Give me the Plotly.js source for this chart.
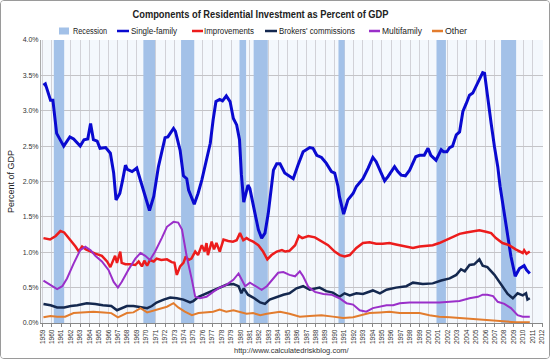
<!DOCTYPE html>
<html>
<head>
<meta charset="utf-8">
<script src="https://cdn.plot.ly/plotly-3.0.1.min.js"></script>
<style>
html,body{margin:0;padding:0;background:#fff;}
#wrap{width:548px;height:357px;border:1px solid #9a9a9a;border-radius:4px;overflow:hidden;}
#chart{width:548px;height:357px;}
</style>
</head>
<body>
<div id="wrap"><div id="chart"></div></div>
<script>
// Recession periods (decimal years)
const recStart = [1960.2, 1969.7, 1973.7, 1979.9, 1981.4, 1990.4, 2000.8, 2007.65];
const recEnd   = [1961.3, 1970.95, 1975.1, 1980.6, 1982.9, 1991.05, 2001.8, 2009.25];

// Year tick labels
const tickYears = [];
for (let y = 1959; y <= 2012; y++) tickYears.push(y);

// Series names and colours
const seriesNames  = ['Recession', 'Single-family', 'Improvements', "Brokers' commissions", 'Multifamily', 'Other'];
const seriesColors = ['#a3c1e8', '#0a0ad0', '#ec1c1c', '#14284f', '#9a2fc9', '#e27c2e'];

// Single-family
const sfYears = [1959.1,1959.3,1959.85,1960.1,1960.5,1961.25,1961.9,1962.3,1963.0,1963.4,1963.8,1964.1,1964.4,1964.8,1965.1,1965.7,1966.2,1966.55,1966.8,1967.2,1967.5,1967.8,1968.0,1968.5,1969.0,1969.4,1969.7,1970.1,1970.35,1970.8,1971.1,1971.3,1972.0,1972.3,1972.9,1973.1,1973.6,1973.95,1974.3,1974.5,1975.1,1975.5,1975.9,1976.25,1976.8,1977.1,1977.4,1977.8,1978.1,1978.5,1978.9,1979.25,1979.6,1979.9,1980.1,1980.35,1980.8,1981.0,1981.2,1981.55,1981.9,1982.25,1982.6,1982.95,1983.3,1983.5,1983.85,1984.2,1984.7,1985.2,1985.6,1986.1,1986.65,1987.35,1987.7,1988.1,1988.6,1989.1,1989.65,1990.0,1990.35,1990.5,1990.95,1991.4,1991.95,1992.3,1992.8,1993.0,1993.55,1994.05,1994.4,1994.8,1995.3,1995.65,1996.35,1996.7,1997.05,1997.5,1997.95,1998.6,1999.0,1999.5,1999.9,2000.2,2000.75,2001.3,2001.55,2001.9,2002.2,2002.5,2002.9,2003.25,2003.6,2003.95,2004.3,2004.65,2005.0,2005.35,2005.7,2005.9,2006.2,2006.6,2006.95,2007.3,2007.55,2008.0,2008.35,2008.7,2009.15,2009.6,2010.1,2010.35,2010.7];
const sfPct = [3.36,3.38,3.15,3.15,2.68,2.50,2.63,2.60,2.50,2.59,2.60,2.82,2.59,2.57,2.47,2.48,2.40,2.12,1.74,1.83,2.02,2.23,2.17,2.14,2.19,2.02,1.88,1.69,1.59,1.79,2.02,2.21,2.62,2.63,2.75,2.71,2.44,2.08,2.04,1.88,1.68,1.83,2.02,2.21,2.54,2.87,3.13,3.16,3.14,3.21,3.13,2.89,2.80,2.59,2.10,1.71,1.95,1.90,1.76,1.55,1.32,1.20,1.27,1.55,1.93,2.16,2.25,2.25,2.12,2.07,2.04,2.23,2.42,2.48,2.47,2.37,2.34,2.26,2.14,2.12,1.93,1.79,1.54,1.74,1.83,1.93,2.02,2.04,2.19,2.34,2.28,2.16,2.01,2.07,2.21,2.14,2.09,2.08,2.16,2.35,2.37,2.37,2.47,2.37,2.30,2.45,2.42,2.42,2.48,2.50,2.66,2.70,2.99,3.10,3.22,3.25,3.34,3.43,3.54,3.53,3.20,2.82,2.49,2.21,1.93,1.55,1.27,0.94,0.66,0.77,0.81,0.75,0.70];

// Improvements
const impYears = [1959.1,1959.8,1960.4,1960.9,1961.3,1962.0,1962.5,1962.85,1963.2,1963.6,1964.1,1964.6,1965.3,1965.85,1966.2,1966.55,1966.7,1966.9,1967.25,1967.4,1967.8,1968.3,1968.85,1969.2,1969.55,1969.8,1970.1,1970.4,1970.8,1971.1,1971.6,1972.2,1972.7,1973.0,1973.25,1973.6,1973.95,1974.2,1974.5,1974.8,1975.2,1975.5,1975.9,1976.2,1976.4,1976.55,1976.95,1977.2,1977.45,1977.8,1978.2,1978.7,1979.2,1979.6,1979.95,1980.3,1980.65,1981.0,1981.35,1981.9,1982.4,1982.85,1983.3,1983.85,1984.4,1984.75,1985.2,1985.8,1986.2,1986.55,1987.2,1987.9,1988.6,1989.3,1990.0,1990.55,1991.05,1991.6,1992.3,1993.0,1993.7,1994.4,1995.1,1995.8,1996.5,1997.4,1998.3,1999.0,1999.7,2000.4,2001.1,2001.8,2002.5,2003.25,2003.95,2004.65,2005.35,2006.05,2006.6,2007.1,2007.8,2008.5,2009.2,2009.95,2010.1,2010.35,2010.7];
const impPct = [1.20,1.18,1.23,1.30,1.28,1.17,1.08,1.01,1.08,1.04,1.01,0.98,0.95,0.87,0.79,0.89,0.95,0.85,1.01,0.85,0.83,0.83,0.82,0.87,0.80,0.88,0.81,0.89,0.87,0.91,0.89,0.90,0.86,0.85,0.68,0.80,0.85,0.94,0.89,0.91,1.01,0.96,1.10,1.01,1.13,0.96,1.15,1.04,1.13,1.01,1.18,1.16,1.15,1.17,1.27,1.17,1.20,1.17,1.15,1.10,1.01,0.90,0.96,1.01,1.03,1.01,1.02,1.10,1.23,1.20,1.23,1.21,1.16,1.10,1.01,0.96,0.94,0.96,1.06,1.13,1.14,1.12,1.12,1.13,1.11,1.08,1.06,1.08,1.09,1.10,1.13,1.17,1.22,1.26,1.28,1.30,1.31,1.29,1.27,1.20,1.13,1.10,1.04,0.99,1.03,0.98,1.01];

// Brokers' commissions
const brkYears = [1959.1,1959.85,1960.55,1961.3,1962.0,1962.7,1963.7,1964.6,1965.4,1966.3,1966.9,1967.4,1967.95,1968.65,1969.4,1970.1,1970.6,1971.1,1971.85,1972.55,1973.25,1973.95,1974.65,1975.0,1975.55,1976.4,1977.5,1978.5,1979.25,1979.8,1980.1,1980.35,1980.8,1981.35,1982.1,1982.6,1983.1,1983.85,1984.55,1985.2,1985.95,1986.65,1987.35,1988.4,1989.1,1989.8,1990.5,1991.05,1991.6,1992.3,1993.0,1994.05,1994.8,1995.5,1996.5,1997.6,1998.3,1999.35,2000.4,2001.3,2002.2,2002.9,2003.4,2003.8,2004.3,2004.8,2005.35,2005.7,2006.2,2006.95,2007.65,2008.35,2008.9,2009.4,2009.95,2010.3,2010.45,2010.7];
const brkPct = [0.27,0.25,0.22,0.22,0.24,0.25,0.28,0.27,0.25,0.24,0.18,0.21,0.24,0.24,0.22,0.21,0.24,0.29,0.33,0.36,0.35,0.33,0.29,0.31,0.37,0.42,0.49,0.54,0.55,0.52,0.42,0.49,0.40,0.36,0.29,0.27,0.33,0.37,0.40,0.42,0.49,0.52,0.47,0.50,0.45,0.43,0.37,0.42,0.39,0.42,0.41,0.46,0.42,0.47,0.50,0.52,0.57,0.55,0.56,0.60,0.63,0.68,0.76,0.73,0.82,0.83,0.90,0.81,0.79,0.68,0.54,0.41,0.35,0.42,0.39,0.42,0.33,0.35];

// Multifamily
const mfYears = [1959.1,1959.85,1960.55,1961.1,1961.6,1962.3,1963.0,1963.55,1964.1,1964.6,1965.3,1966.0,1966.55,1967.0,1967.4,1968.1,1968.85,1969.4,1969.9,1970.4,1970.95,1971.65,1972.2,1972.9,1973.4,1973.8,1974.3,1974.85,1975.2,1975.7,1976.4,1977.1,1977.8,1978.5,1979.25,1979.8,1980.1,1980.5,1981.0,1981.7,1982.25,1982.8,1983.5,1984.0,1984.55,1985.2,1985.8,1986.3,1986.65,1987.2,1987.9,1988.8,1989.65,1990.5,1991.25,1991.95,1992.65,1993.35,1994.05,1994.8,1995.5,1996.2,1996.9,1997.95,1999.0,2000.05,2001.1,2002.2,2003.25,2004.3,2005.2,2005.7,2006.2,2006.8,2007.3,2008.0,2008.7,2009.4,2009.95,2010.7];
const mfPct = [0.60,0.54,0.48,0.52,0.63,0.84,1.03,1.08,1.03,0.95,0.87,0.75,0.58,0.50,0.58,0.75,0.91,0.99,0.95,0.89,1.01,1.20,1.36,1.43,1.42,1.32,0.94,0.61,0.37,0.35,0.37,0.44,0.50,0.54,0.61,0.70,0.63,0.52,0.57,0.52,0.47,0.52,0.63,0.71,0.72,0.68,0.66,0.73,0.66,0.51,0.44,0.41,0.40,0.35,0.28,0.26,0.18,0.16,0.21,0.23,0.25,0.25,0.28,0.29,0.29,0.28,0.29,0.30,0.31,0.35,0.37,0.40,0.40,0.38,0.30,0.27,0.21,0.11,0.09,0.09];

// Other
const othYears = [1959.1,1959.85,1960.55,1961.4,1962.3,1963.4,1964.4,1965.5,1966.3,1967.0,1967.95,1968.65,1969.4,1970.1,1970.8,1971.5,1972.2,1972.9,1973.4,1974.1,1974.85,1975.55,1976.4,1977.1,1977.8,1978.5,1979.25,1979.95,1980.65,1981.35,1982.1,1982.8,1983.5,1984.2,1985.2,1986.3,1987.35,1988.6,1989.8,1990.9,1991.95,1992.8,1993.7,1994.8,1995.8,1996.9,1997.95,1999.0,2000.05,2001.1,2002.2,2003.25,2004.3,2005.35,2006.4,2007.8,2009.2,2010.7];
const othPct = [0.08,0.10,0.09,0.09,0.14,0.15,0.16,0.15,0.14,0.08,0.14,0.15,0.21,0.15,0.18,0.21,0.23,0.28,0.22,0.16,0.11,0.14,0.15,0.16,0.19,0.16,0.18,0.15,0.13,0.14,0.11,0.13,0.15,0.16,0.13,0.09,0.10,0.11,0.09,0.07,0.08,0.11,0.14,0.15,0.16,0.14,0.14,0.14,0.11,0.09,0.08,0.07,0.06,0.04,0.03,0.02,0.01,0.01];

// Recession polygons (separated by gaps)
const recX = [], recY = [];
recStart.forEach((s, i) => {
  recX.push(s, recEnd[i], recEnd[i], s, s, null);
  recY.push(0, 0, 4, 4, 0, null);
});

const font = "'Liberation Sans', Arial, sans-serif";

const traces = [
  {x: recX, y: recY, name: seriesNames[0], type: 'scatter', mode: 'lines', fill: 'toself',
   fillcolor: seriesColors[0], line: {width: 0, color: seriesColors[0]}, hoverinfo: 'skip'},
  {x: sfYears,  y: sfPct,  name: seriesNames[1], type: 'scatter', mode: 'lines', line: {color: seriesColors[1], width: 3}},
  {x: impYears, y: impPct, name: seriesNames[2], type: 'scatter', mode: 'lines', line: {color: seriesColors[2], width: 2.5}},
  {x: brkYears, y: brkPct, name: seriesNames[3], type: 'scatter', mode: 'lines', line: {color: seriesColors[3], width: 2.5}},
  {x: mfYears,  y: mfPct,  name: seriesNames[4], type: 'scatter', mode: 'lines', line: {color: seriesColors[4], width: 2}},
  {x: othYears, y: othPct, name: seriesNames[5], type: 'scatter', mode: 'lines', line: {color: seriesColors[5], width: 2}}
];

// Page-pixel helpers for legend placement (figure is offset by the 1px border)
const W = 548, H = 357, ML = 40, MR = 6, MT = 39, MB = 35;
const PW = W - ML - MR, PH = H - MT - MB;
const px = p => (p - 1 - ML) / PW;
const py = p => 1 - (p - 1 - MT) / PH;

// Legend layout (page px): swatch left/right edges, text start and text width
const legSwatchL = [59, 117, 192, 265, 369, 432];
const legSwatchR = [69, 129, 203, 277, 380, 443];
const legTextX   = [71, 129, 202, 277, 380, 443];
const legTextW   = [34, 46, 50, 76, 40, 22];
const legY = 31;

const shapes = [], annotations = [];
seriesNames.forEach((nm, i) => {
  if (i === 0) {
    shapes.push({type: 'rect', xref: 'paper', yref: 'paper', x0: px(legSwatchL[i]), x1: px(legSwatchR[i]),
                 y0: py(legY + 3.5), y1: py(legY - 3.5), fillcolor: seriesColors[i], line: {width: 0}});
  } else {
    shapes.push({type: 'line', xref: 'paper', yref: 'paper', x0: px(legSwatchL[i]), x1: px(legSwatchR[i]),
                 y0: py(legY), y1: py(legY), line: {color: seriesColors[i], width: 2.5}});
  }
  annotations.push({text: nm, xref: 'paper', yref: 'paper', x: px(legTextX[i]), y: py(legY),
                    xanchor: 'left', yanchor: 'middle', align: 'left', showarrow: false,
                    font: {family: font, size: 8.5, color: '#222'}});
});
annotations.push({text: 'http://www.calculatedriskblog.com/', xref: 'paper', yref: 'paper',
                  x: px(292), y: py(350), xanchor: 'center', yanchor: 'middle', showarrow: false,
                  font: {family: font, size: 7.5, color: '#333'}});

const yTicks = [0, 0.5, 1, 1.5, 2, 2.5, 3, 3.5, 4];

const layout = {
  width: W, height: H,
  margin: {l: ML, r: MR, t: MT, b: MB},
  paper_bgcolor: '#ffffff',
  plot_bgcolor: '#f4f8fd',
  font: {family: font, size: 8, color: '#333'},
  title: {text: 'Components of Residential Investment as Percent of GDP',
          font: {family: font, size: 11.5, color: '#222', weight: 'bold'},
          x: (260.5 - 1) / W, xanchor: 'center', y: 1 - 12.5 / H, yanchor: 'middle'},
  showlegend: false,
  xaxis: {range: [1958.84, 2012.1], tickmode: 'array', tickvals: tickYears, ticktext: tickYears.map(String),
          tickangle: -90, tickfont: {size: 6.5, color: '#333'}, showgrid: true, gridcolor: '#d2d2d8', gridwidth: 1,
          zeroline: false, showline: true, linecolor: '#888', ticks: 'outside', ticklen: 3, tickcolor: '#888'},
  yaxis: {range: [0, 4.0], tickmode: 'array', tickvals: yTicks, ticktext: yTicks.map(v => v.toFixed(1) + '%'),
          showgrid: true, gridcolor: '#c4c4c8', gridwidth: 1,
          zeroline: false, showline: true, linecolor: '#aaa', tickfont: {size: 7, color: '#333'},
          title: {text: 'Percent of GDP', font: {size: 9, color: '#222'}, standoff: 6}},
  shapes: shapes,
  annotations: annotations
};

Plotly.newPlot('chart', traces, layout, {displayModeBar: false, staticPlot: true}).then(() => {
  // condense texts to the reference's narrow (Calibri-like) widths
  const t = document.querySelector('#chart .gtitle');
  if (t) { t.setAttribute('textLength', '256'); t.setAttribute('lengthAdjust', 'spacingAndGlyphs'); }
  const annTexts = document.querySelectorAll('#chart .annotation-text');
  annTexts.forEach(el => {
    const idx = seriesNames.indexOf(el.textContent);
    if (idx >= 0) {
      el.setAttribute('textLength', String(legTextW[idx]));
      el.setAttribute('lengthAdjust', 'spacingAndGlyphs');
    }
  });
});
</script>
</body>
</html>
